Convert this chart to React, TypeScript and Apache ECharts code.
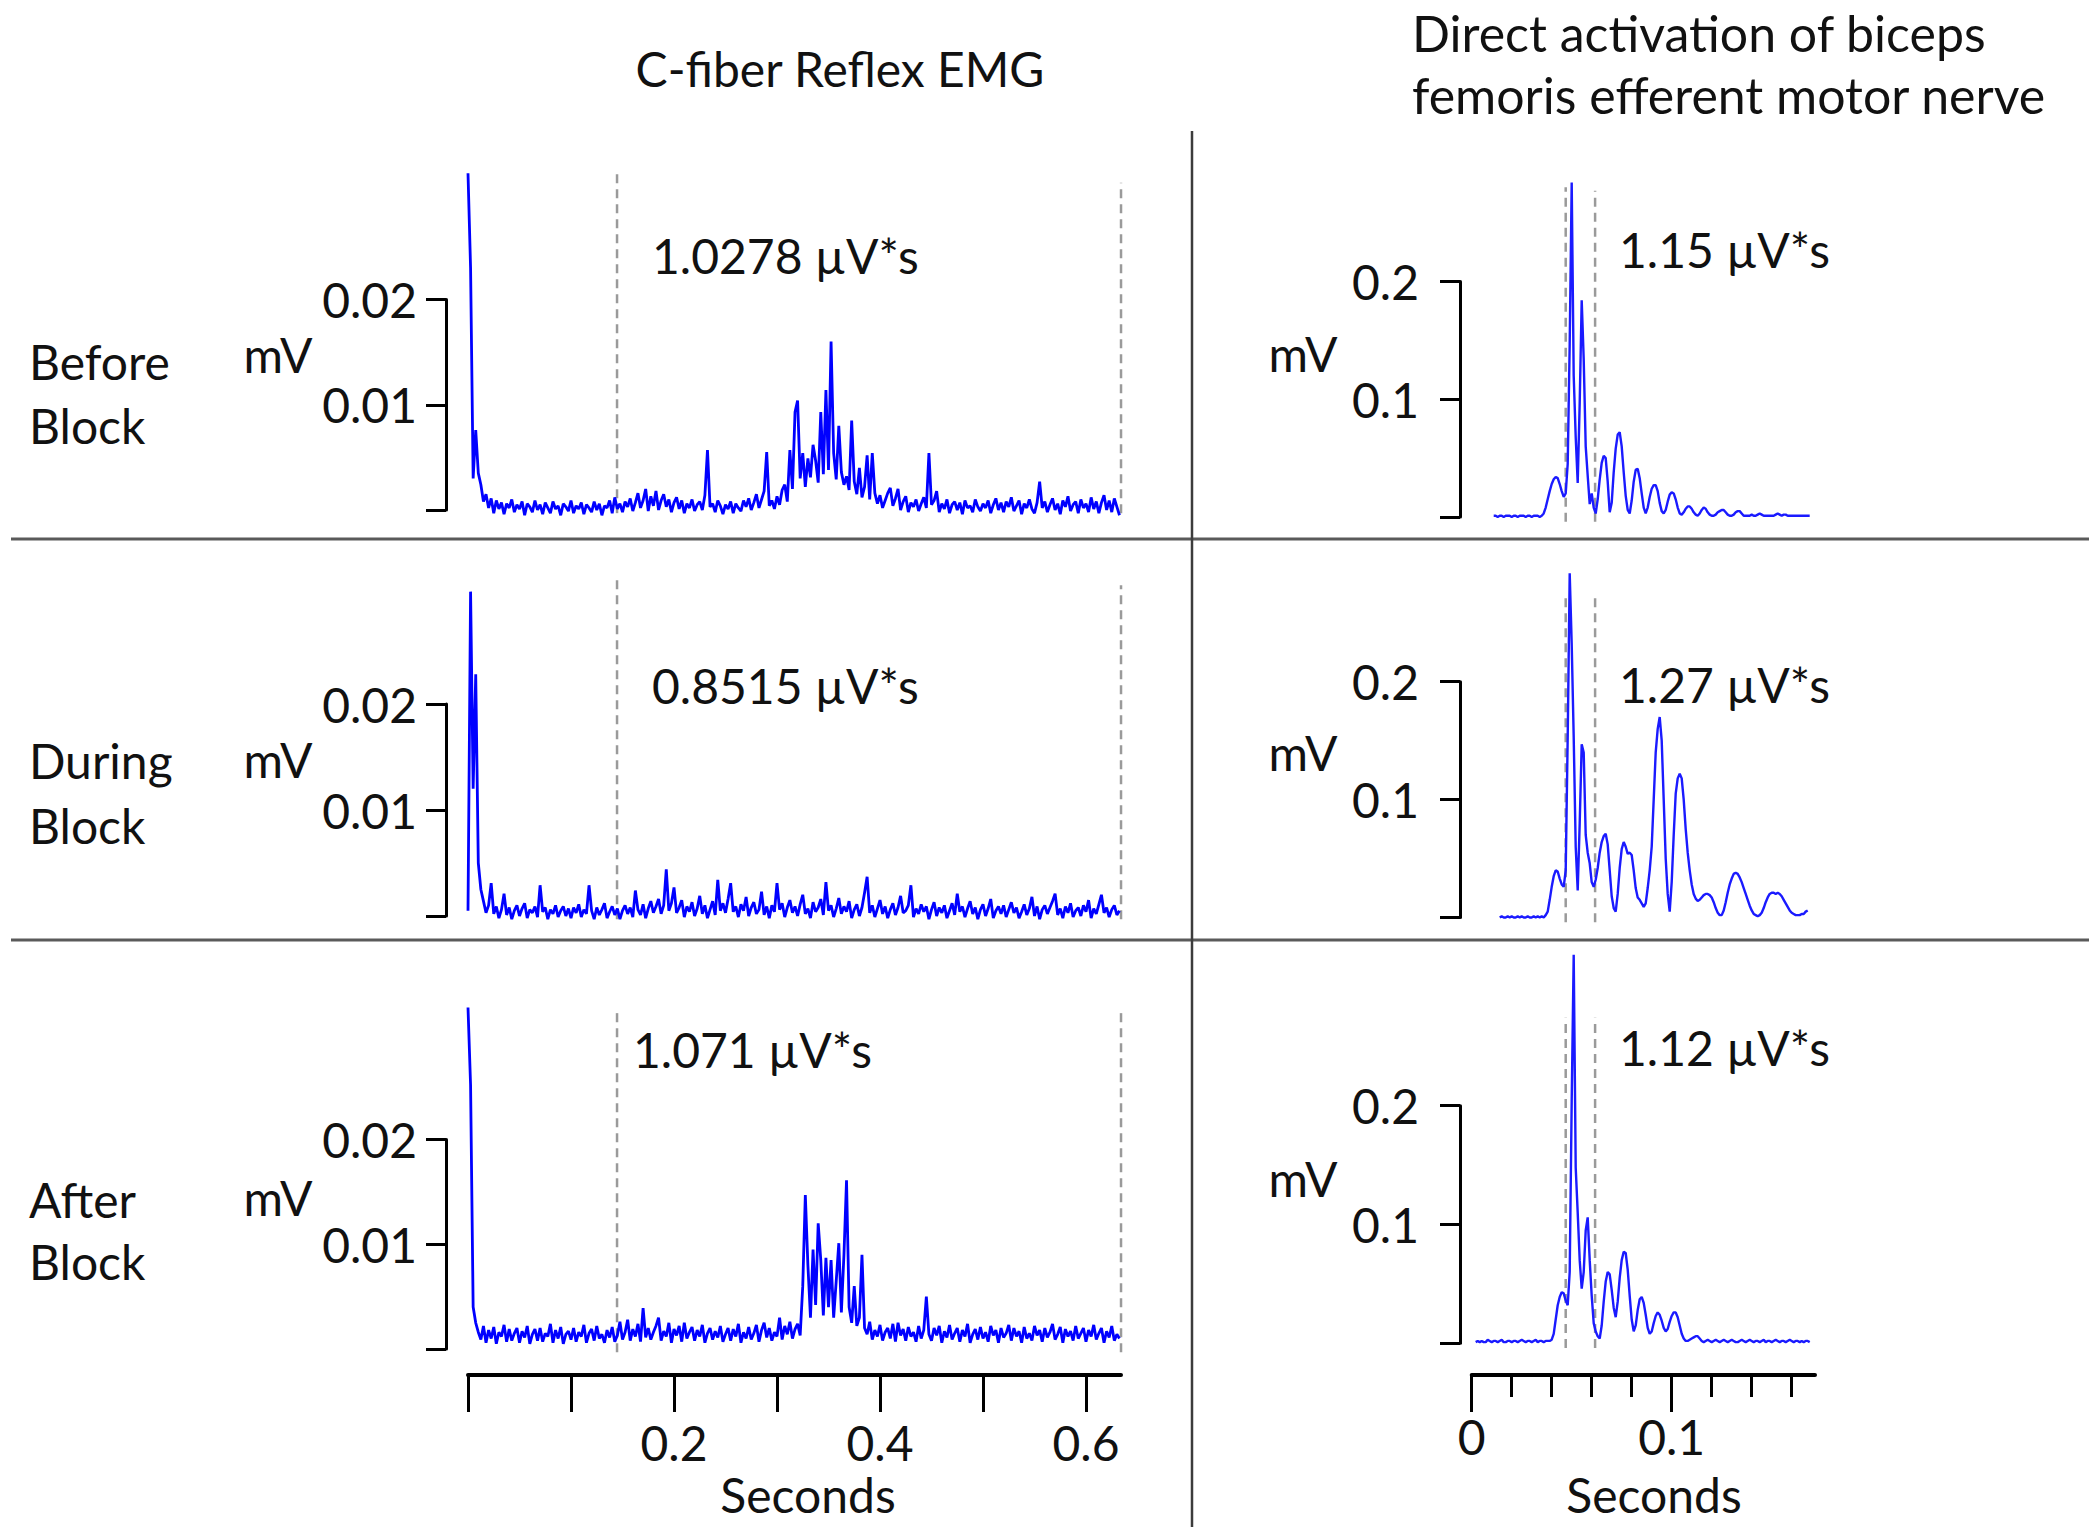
import React, { useEffect, useRef } from "react";
import * as echarts from "echarts";

// ---- C-fiber reflex EMG (rectified), one sample every 2.5 ms, values in µV ----
const reflexSampleStepS = 0.0025;

const reflexBeforeUv = [
  32, 23, 3, 7.6, 3.5, 2.4, 0.8, 1.5, 0.2, 1.1, -0.3, 0.9, 0.1, 0.7, -0.4, 0.6, 0.2, 1.0, -0.2, 0.5,
  0.1, 0.8, -0.5, 0.6, 0.3, -0.2, 0.9, 0.0, 0.5, -0.4, 0.7, 0.2, -0.3, 0.8, 0.1, 0.4, -0.5, 0.6, 0.3, -0.1,
  0.9, -0.3, 0.4, 0.1, 0.7, -0.4, 0.5, 0.2, -0.2, 0.8, 0.0, 0.6, -0.5, 0.4, 0.2, 0.9, -0.3, 1.2, 0.1, 0.6,
  -0.2, 0.8, 0.3, 1.1, -0.1, 0.7, 1.6, 0.2, 0.9, 2.0, -0.1, 1.3, 0.4, 1.8, 0.0, 0.9, 1.5, 0.3, 1.0, -0.2,
  0.7, 1.2, 0.1, 0.9, -0.3, 0.6, 0.2, 1.0, -0.1, 0.5, 0.8, 0.0, 1.4, 5.7, 0.3, 0.6, -0.2, 0.9, 0.4, -0.4,
  0.5, 0.1, 0.8, -0.3, 0.6, 0.2, -0.1, 0.9, 0.3, 1.1, 0.0, 0.7, 1.5, 0.2, 1.0, 1.8, 5.5, 0.4, 0.9, 0.1,
  1.3, 0.5, 1.9, 2.4, 0.8, 5.7, 2.0, 9.3, 10.4, 3.0, 5.4, 2.2, 4.9, 3.1, 6.2, 4.7, 2.6, 9.3, 3.4, 11.4,
  3.8, 16.0, 5.4, 2.9, 8.0, 3.6, 2.4, 3.2, 1.9, 8.5, 2.7, 1.5, 4.0, 1.2, 2.2, 5.2, 1.0, 5.4, 1.6, 0.6,
  1.4, 0.2, 0.9, 1.6, 2.1, 0.4, 1.1, 2.0, 0.0, 0.8, 1.3, -0.2, 0.7, 0.3, 1.0, -0.1, 0.6, 1.2, 0.2, 5.4,
  0.5, 0.9, 1.8, -0.2, 0.6, 0.1, 1.0, -0.3, 0.5, 0.8, 0.0, 0.7, -0.4, 0.9, 0.2, 0.4, -0.2, 1.0, 0.3, -0.1,
  0.6, 0.2, 0.9, -0.3, 0.5, 1.1, 0.0, 0.7, -0.2, 0.8, 0.3, 1.2, -0.1, 0.4, 0.9, -0.4, 0.6, 0.2, 1.0, 0.1,
  -0.3, 0.7, 2.7, 0.2, 0.8, -0.2, 0.5, 1.1, 0.0, 0.6, -0.4, 0.9, 0.3, 1.3, -0.1, 0.5, 0.8, -0.3, 1.0, 0.2,
  0.6, -0.2, 1.2, 0.1, 0.8, -0.3, 0.7, 1.4, 0.0, 0.9, -0.2, 1.1, 0.3, -0.5,
];

const reflexDuringUv = [
  0.5, 30.6, 12.0, 22.8, 5.0, 2.5, 1.4, 0.3, 1.0, 3.1, 0.2, 0.9, -0.2, 0.6, 2.1, 0.1, 0.8, -0.3, 0.5, 1.0,
  0.0, 0.7, 1.2, -0.2, 0.6, 0.3, 0.9, -0.1, 2.9, 0.4, 0.8, -0.3, 0.6, 0.2, 1.0, -0.1, 0.5, 0.9, 0.0, 0.7,
  -0.2, 0.8, 0.3, 1.1, -0.1, 0.6, 0.2, 2.9, 0.5, -0.3, 0.8, 0.1, 0.6, 1.2, -0.2, 0.4, 0.9, 0.1, 0.7, -0.3,
  0.5, 1.0, 0.2, 0.8, -0.1, 2.4, 0.6, 0.1, 1.1, -0.2, 0.7, 1.4, 0.3, 0.9, 1.6, 0.2, 1.0, 4.4, 0.5, 1.2,
  2.7, 0.3, 0.8, 1.5, -0.1, 0.9, 0.4, 1.3, 0.0, 0.7, 1.9, 0.2, 1.0, -0.2, 0.6, 1.4, 0.1, 3.4, 0.5, 1.2,
  0.3, 1.6, 3.1, 0.4, 0.9, -0.1, 1.1, 0.5, 1.8, 0.0, 0.8, 1.3, 0.2, 0.6, 2.3, 0.1, 0.9, -0.2, 1.0, 0.4,
  3.1, 0.6, 1.2, -0.1, 0.8, 1.5, 0.3, 0.9, 0.0, 1.1, 2.0, 0.2, 0.7, -0.2, 1.3, 0.4, 0.8, 1.6, 0.1, 3.2,
  0.5, 1.0, -0.1, 0.7, 1.7, 0.2, 0.9, 0.4, 1.4, -0.2, 0.6, 1.1, 0.0, 0.8, 2.2, 3.7, 0.3, 1.0, -0.1, 0.7,
  1.5, 0.2, 0.9, -0.2, 0.6, 1.2, 0.1, 0.8, 1.9, 0.3, 0.5, 1.0, 2.9, -0.1, 0.7, 0.2, 1.1, 0.4, 0.9, -0.3,
  0.6, 1.3, 0.0, 0.8, 0.3, 1.0, -0.2, 0.5, 1.2, 0.1, 2.1, 0.4, 0.9, -0.1, 0.7, 1.4, 0.2, 0.8, -0.3, 0.6,
  1.1, 0.0, 0.7, 1.6, -0.2, 0.5, 0.9, 0.2, 1.0, -0.1, 0.6, 1.3, 0.3, 0.8, -0.2, 0.4, 1.1, 0.1, 0.7, 1.8,
  0.0, 0.9, -0.3, 0.6, 1.0, 0.2, 0.8, 1.4, 2.1, 0.1, 0.7, -0.2, 0.9, 0.3, 1.2, -0.1, 0.5, 0.8, 0.0, 1.0,
  0.4, 1.5, -0.2, 0.7, 0.2, 1.1, 2.0, 0.3, 0.8, -0.1, 0.6, 1.0, 0.1, 0.5,
];

const reflexAfterUv = [
  32.6, 25.2, 4.0, 2.5, 1.6, 0.9, 2.2, 0.6, 1.8, 1.0, 2.1, 0.5, 1.6, 1.2, 2.3, 0.7, 1.9, 0.8, 1.5, 2.0,
  0.6, 1.7, 1.1, 2.2, 0.5, 1.4, 1.9, 0.8, 2.0, 0.7, 1.5, 1.2, 2.4, 0.6, 1.8, 1.0, 2.1, 0.5, 1.4, 1.7,
  0.9, 2.0, 0.7, 1.6, 1.2, 2.3, 0.6, 1.5, 1.9, 0.8, 2.2, 1.0, 1.4, 0.6, 1.8, 1.1, 2.1, 0.7, 1.3, 2.6,
  0.9, 1.6, 2.8, 0.8, 1.9, 1.2, 2.4, 0.7, 3.9, 1.1, 2.0, 0.9, 1.6, 2.2, 3.0, 0.8, 1.7, 1.2, 2.5, 0.6,
  1.9, 1.3, 2.2, 0.7, 2.5, 1.0, 1.6, 2.1, 0.8, 1.8, 1.2, 2.3, 0.6, 1.5, 2.0, 0.9, 1.7, 1.1, 2.2, 0.7,
  1.4, 2.0, 0.8, 1.9, 1.2, 2.4, 0.6, 1.6, 1.0, 2.1, 0.9, 1.5, 2.3, 0.7, 1.8, 2.5, 1.1, 2.0, 0.8, 1.6,
  1.2, 3.0, 0.9, 2.2, 1.4, 2.6, 1.0, 1.9, 2.4, 1.3, 6.0, 14.7, 8.0, 3.0, 9.5, 4.2, 12.0, 8.5, 3.2, 8.7,
  4.0, 8.5, 3.0, 6.5, 10.1, 3.5, 9.0, 16.1, 4.0, 2.5, 6.0, 2.2, 3.0, 9.0, 2.0, 1.4, 2.6, 0.9, 1.8, 1.2,
  2.3, 0.8, 1.6, 2.0, 1.0, 2.4, 0.7, 2.5, 1.3, 1.9, 0.8, 2.1, 1.2, 1.6, 0.7, 2.2, 1.0, 1.8, 5.0, 1.4,
  0.8, 2.0, 1.3, 2.2, 0.6, 1.7, 1.1, 2.3, 0.9, 1.5, 2.0, 0.7, 1.8, 1.2, 2.4, 0.6, 1.4, 1.9, 0.9, 2.1,
  1.0, 1.6, 0.7, 2.2, 1.3, 1.8, 0.6, 2.0, 1.1, 1.5, 2.3, 0.8, 2.0, 1.2, 1.7, 0.6, 2.1, 1.0, 1.5, 0.8,
  2.2, 1.3, 1.8, 0.7, 2.0, 1.1, 1.6, 2.4, 0.9, 1.4, 2.1, 0.6, 1.9, 1.2, 1.7, 0.8, 2.2, 1.0, 1.5, 2.0,
  0.7, 1.8, 1.2, 2.3, 0.9, 1.5, 2.0, 0.6, 1.7, 1.1, 2.2, 0.8, 1.4, 1.0,
];

// ---- Direct activation of the motor nerve, one sample every 1 ms, values in µV ----
const directSampleStepS = 0.001;
const directStartS = [0.011, 0.014, 0.002];

const directBeforeUv = [
  1, 1, 0, 1, 1, 0, 1, 1, 1, 0, 1, 1, 0, 1, 1, 1, 0, 1, 1, 0,
  1, 1, 1, 0, 1,
  3, 8, 15, 22, 28, 32, 34, 33, 28, 22,
  17, 20, 45, 147, 284, 120, 68, 29, 97, 184,
  134, 60, 35, 11, 20, 8, 3, 15, 32, 46,
  52, 50, 30, 4, 12, 38, 58, 70, 72, 60,
  38, 18, 6, 3, 14, 30, 40, 41, 33, 20,
  8, 3, 8, 17, 24, 27, 27, 22, 12, 5,
  3, 6, 13, 19, 21, 20, 15, 8, 3, 2,
  4, 7, 9, 9, 7, 4, 2, 1, 3, 6,
  8, 7, 4, 2, 1, 1, 2, 4, 5, 6,
  6, 4, 2, 1, 1, 2, 4, 5, 5, 3,
  1, 1, 1, 1, 2, 1, 1, 2, 3, 2,
  1, 1, 1, 1, 1, 1, 2, 3, 2, 1,
  2, 2, 1, 1, 1, 1, 1, 1, 1, 1,
  1, 1, 1, 1,
];

const directDuringUv = [
  0, 1, 0, 0, 1, 0, 1, 0, 0, 1, 0, 1, 0, 0, 1, 0, 0, 1, 0, 1,
  0, 1, 0, 2,
  5, 15, 26, 35, 40, 39, 33, 28, 26, 40,
  153, 292, 232, 153, 60, 23, 80, 147, 140, 70,
  55, 46, 30, 26, 32, 42, 55, 64, 69, 71,
  62, 40, 18, 8, 5, 20, 42, 58, 64, 60,
  54, 55, 53, 40, 25, 17, 15, 12, 9, 12,
  25, 40, 60, 100, 140, 160, 170, 150, 100, 50,
  20, 5, 30, 70, 105, 118, 122, 118, 100, 75,
  55, 40, 28, 20, 16, 14, 15, 17, 19, 20,
  20, 19, 17, 13, 8, 4, 2, 2, 6, 13,
  21, 28, 33, 37, 38, 37, 34, 30, 25, 20,
  15, 10, 6, 3, 2, 1, 2, 4, 8, 13,
  17, 20, 21, 21, 20, 21, 20, 18, 15, 12,
  9, 6, 4, 3, 2, 2, 2, 3, 3, 5,
  6,
];

const directAfterUv = [
  1, 2, 1, 2, 1, 1, 3, 2, 1, 2, 2, 1, 2, 3, 1, 1, 2, 2, 1, 2,
  2, 1, 2, 3, 2, 1, 2, 2, 1, 2, 3, 1, 2, 2, 1, 2, 2, 2,
  3, 8, 20, 32, 39, 43, 42, 36, 32, 60,
  204, 327, 148, 110, 70, 46, 60, 95, 106, 70,
  40, 17, 10, 6, 4, 15, 35, 52, 60, 58,
  45, 30, 22, 35, 55, 70, 77, 76, 62, 40,
  20, 10, 15, 28, 37, 39, 34, 24, 13, 8,
  10, 17, 23, 26, 24, 19, 13, 10, 12, 18,
  23, 26, 26, 22, 15, 8, 4, 2, 2, 3,
  4, 5, 6, 6, 4, 2, 1, 2, 3, 2,
  1, 2, 3, 2, 1, 2, 3, 2, 1, 2,
  3, 2, 1, 1, 2, 3, 2, 1, 2, 3,
  2, 1, 2, 2, 1, 2, 3, 1, 2, 2,
  1, 2, 3, 2, 1, 2, 2, 1, 2, 3,
  2, 1, 2, 2, 1, 2, 1, 2, 2, 1,
];

// ---- Labels, integration windows, tick values ----
const conditionLabels = [
  ["Before", "Block"],
  ["During", "Block"],
  ["After", "Block"],
];
const reflexAreaLabels = ["1.0278 µV*s", "0.8515 µV*s", "1.071 µV*s"];
const directAreaLabels = ["1.15 µV*s", "1.27 µV*s", "1.12 µV*s"];

const reflexWindowS = [0.1447, 0.634];
const directWindowS = [0.047, 0.0617];
const reflexWindowTopMv = [
  [0.0321, 0.0311],
  [0.0317, 0.0312],
  [0.0326, 0.0321],
];
const directWindowTopMv = [
  [0.28, 0.277],
  [0.273, 0.273],
  [0.274, 0.274],
];

const reflexYTicks = [0, 0.01, 0.02];
const directYTicks = [0, 0.1, 0.2];
const reflexXTicks = [0, 0.1, 0.2, 0.3, 0.4, 0.5, 0.6];
const reflexXLabels = [0.2, 0.4, 0.6];
const directXMajorTicks = [0, 0.1];
const directXMinorTicks = [0.02, 0.04, 0.06, 0.08, 0.12, 0.14, 0.16];

// ---- Layout (pixels) ----
const FONT = "Lato";
const FS = 48;
const INK = "#111111";
const TRACE = "#0000ff";
const WINDOW_LINE = "#9a9a9a";

const REFLEX_LEFT = 468;
const REFLEX_PX_PER_S = 1030;
const REFLEX_WIDTH = 653;
const DIRECT_LEFT = 1471.7;
const DIRECT_PX_PER_S = 2000;
const DIRECT_WIDTH = 343.3;
const reflexRows = [
  [299.5, 510],
  [704, 916],
  [1139.5, 1349],
];
const directRows = [
  [281.5, 517],
  [681.7, 917.5],
  [1105.7, 1343.3],
];
const X_AXIS_Y = 1375;

const reflexTraces = [reflexBeforeUv, reflexDuringUv, reflexAfterUv];
const directTraces = [directBeforeUv, directDuringUv, directAfterUv];

function axisStroke(width: number = 3) {
  return { color: "#000", width };
}

function buildOption() {
  const reflexMax = REFLEX_WIDTH / REFLEX_PX_PER_S;
  const directMax = DIRECT_WIDTH / DIRECT_PX_PER_S;

  const grid: any[] = [];
  const xAxis: any[] = [];
  const yAxis: any[] = [];
  const series: any[] = [];

  const labelStyle = { fontSize: FS, fontFamily: FONT, color: INK };

  // grids 0..2: reflex rows, grids 3..5: direct rows
  reflexRows.forEach(([top, bottom]) => {
    grid.push({ left: REFLEX_LEFT, top, width: REFLEX_WIDTH, height: bottom - top, outerBoundsMode: "none" });
  });
  directRows.forEach(([top, bottom]) => {
    grid.push({ left: DIRECT_LEFT, top, width: DIRECT_WIDTH, height: bottom - top, outerBoundsMode: "none" });
  });

  for (let r = 0; r < 3; r++) {
    const last = r === 2;
    xAxis.push(
      last
        ? {
            type: "value",
            gridIndex: r,
            min: 0,
            max: reflexMax,
            position: "bottom",
            offset: X_AXIS_Y - reflexRows[r][1],
            axisLine: { show: true, onZero: false, lineStyle: axisStroke(4) },
            axisTick: { show: true, length: 37, lineStyle: axisStroke(3), customValues: reflexXTicks },
            axisLabel: {
              show: true,
              margin: 46,
              lineHeight: 42,
              customValues: reflexXLabels,
              formatter: (v: number) => String(v),
              ...labelStyle,
            },
            splitLine: { show: false },
          }
        : { type: "value", gridIndex: r, min: 0, max: reflexMax, show: false, splitLine: { show: false } }
    );
    yAxis.push({
      type: "value",
      gridIndex: r,
      min: reflexYTicks[0],
      max: reflexYTicks[2],
      interval: 0.01,
      position: "left",
      offset: 22,
      axisLine: { show: true, onZero: false, lineStyle: axisStroke() },
      axisTick: { show: true, length: 20, lineStyle: axisStroke() },
      axisLabel: { margin: 29, formatter: (v: number) => (v === 0 ? "" : v.toFixed(2)), ...labelStyle },
      splitLine: { show: false },
    });
  }
  for (let r = 0; r < 3; r++) {
    const g = 3 + r;
    const last = r === 2;
    xAxis.push(
      last
        ? {
            type: "value",
            gridIndex: g,
            min: 0,
            max: directMax,
            position: "bottom",
            offset: X_AXIS_Y - directRows[r][1],
            axisLine: { show: true, onZero: false, lineStyle: axisStroke(4) },
            axisTick: { show: true, length: 37, lineStyle: axisStroke(3), customValues: directXMajorTicks },
            axisLabel: {
              show: true,
              margin: 40,
              lineHeight: 42,
              customValues: directXMajorTicks,
              formatter: (v: number) => String(v),
              ...labelStyle,
            },
            splitLine: { show: false },
          }
        : { type: "value", gridIndex: g, min: 0, max: directMax, show: false, splitLine: { show: false } }
    );
    yAxis.push({
      type: "value",
      gridIndex: g,
      min: directYTicks[0],
      max: directYTicks[2],
      interval: 0.1,
      position: "left",
      offset: DIRECT_LEFT - 1460,
      axisLine: { show: true, onZero: false, lineStyle: axisStroke() },
      axisTick: { show: true, length: 20, lineStyle: axisStroke() },
      axisLabel: { margin: 41, formatter: (v: number) => (v === 0 ? "" : v.toFixed(1)), ...labelStyle },
      splitLine: { show: false },
    });
  }
  // short ticks every 20 ms on the direct-activation time axis
  xAxis.push({
    type: "value",
    gridIndex: 5,
    min: 0,
    max: directMax,
    position: "bottom",
    offset: X_AXIS_Y - directRows[2][1],
    axisLine: { show: false, onZero: false },
    axisTick: { show: true, length: 22, lineStyle: axisStroke(3), customValues: directXMinorTicks },
    axisLabel: { show: false },
    splitLine: { show: false },
  });

  const lineBase = {
    type: "line",
    showSymbol: false,
    symbol: "none",
    clip: false,
    silent: true,
    animation: false,
  };

  // integration windows (dashed)
  for (let r = 0; r < 3; r++) {
    reflexWindowS.forEach((t, k) => {
      series.push({
        ...lineBase,
        xAxisIndex: r,
        yAxisIndex: r,
        data: [
          [t, -0.0003],
          [t, reflexWindowTopMv[r][k]],
        ],
        lineStyle: { color: WINDOW_LINE, width: 2.5, type: [9, 6] },
        z: 1,
      });
    });
    directWindowS.forEach((t, k) => {
      series.push({
        ...lineBase,
        xAxisIndex: 3 + r,
        yAxisIndex: 3 + r,
        data: [
          [t, -0.004],
          [t, directWindowTopMv[r][k]],
        ],
        lineStyle: { color: WINDOW_LINE, width: 2.5, type: [9, 6] },
        z: 1,
      });
    });
  }

  // EMG traces (µV -> mV)
  reflexTraces.forEach((vals, r) => {
    series.push({
      ...lineBase,
      xAxisIndex: r,
      yAxisIndex: r,
      data: vals.map((v, i) => [i * reflexSampleStepS, v / 1000]),
      lineStyle: { color: TRACE, width: 2.8 },
      z: 2,
    });
  });
  directTraces.forEach((vals, r) => {
    series.push({
      ...lineBase,
      xAxisIndex: 3 + r,
      yAxisIndex: 3 + r,
      data: vals.map((v, i) => [directStartS[r] + i * directSampleStepS, v / 1000]),
      lineStyle: { color: "#1a1aff", width: 2.4 },
      z: 2,
    });
  });

  const text = (t: string, x: number, y: number, align: string = "left", size: number = FS) => ({
    type: "text",
    x,
    y,
    silent: true,
    style: {
      text: t,
      fontSize: size,
      fontFamily: FONT,
      fill: INK,
      lineHeight: 42,
      textAlign: align,
      textVerticalAlign: "middle",
    },
  });
  const rule = (x1: number, y1: number, x2: number, y2: number, color: string, w: number) => ({
    type: "line",
    silent: true,
    shape: { x1, y1, x2, y2 },
    style: { stroke: color, lineWidth: w },
  });

  const rowLabelY = [
    [361, 425],
    [760, 825],
    [1199, 1261],
  ];
  const reflexMvY = [354, 759, 1197];
  const directMvY = [353, 752, 1178];
  const reflexAreaPos = [
    [652, 255],
    [652, 685],
    [633, 1049],
  ];
  const directAreaY = [249, 684, 1047];

  const graphic: any[] = [
    rule(11, 539, 2089, 539, "#5a5a5a", 3),
    rule(11, 940, 2089, 940, "#5a5a5a", 3),
    rule(1192, 131, 1192, 1527, "#3c3c3c", 2.5),
    text("C-fiber Reflex EMG", 840, 68, "center"),
    text("Direct activation of biceps", 1412, 33, "left", 50),
    text("femoris efferent motor nerve", 1412, 95, "left", 50),
    text("Seconds", 808, 1494, "center"),
    text("Seconds", 1654, 1494, "center"),
  ];
  for (let r = 0; r < 3; r++) {
    graphic.push(text(conditionLabels[r][0], 29, rowLabelY[r][0]));
    graphic.push(text(conditionLabels[r][1], 29, rowLabelY[r][1]));
    graphic.push(text("mV", 278, reflexMvY[r], "center"));
    graphic.push(text("mV", 1303, directMvY[r], "center"));
    graphic.push(text(reflexAreaLabels[r], reflexAreaPos[r][0], reflexAreaPos[r][1]));
    graphic.push(text(directAreaLabels[r], 1619, directAreaY[r]));
  }

  return {
    animation: false,
    backgroundColor: "#ffffff",
    textStyle: { fontFamily: FONT },
    grid,
    xAxis,
    yAxis,
    series,
    graphic,
  };
}

export default function App() {
  const ref = useRef<HTMLDivElement>(null);
  useEffect(() => {
    if (!ref.current) return;
    const chart = echarts.init(ref.current, undefined, { renderer: "svg" });
    chart.setOption(buildOption() as any);
    return () => chart.dispose();
  }, []);
  return (
    <div
      ref={ref}
      style={{ position: "absolute", left: 0, top: 0, width: 2100, height: 1539, background: "#ffffff" }}
    />
  );
}
